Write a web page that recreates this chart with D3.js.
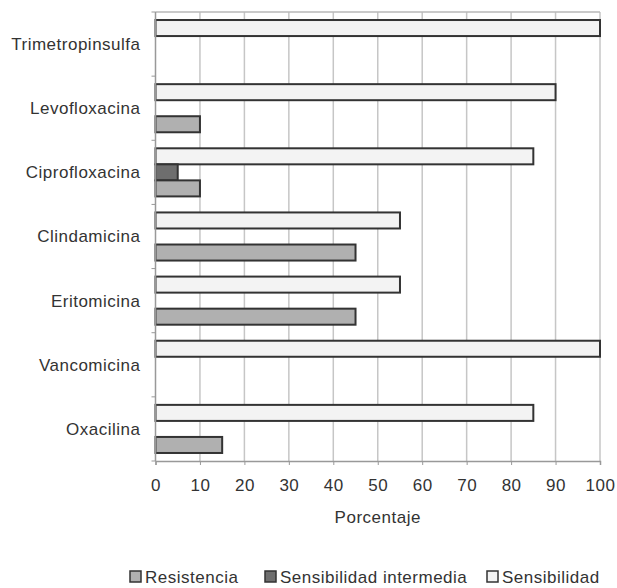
<!DOCTYPE html>
<html>
<head>
<meta charset="utf-8">
<script src="https://cdn.jsdelivr.net/npm/d3@7"></script>
<style>
  body { margin: 0; background: #fff; }
  text { font-family: "Liberation Sans", Arial, sans-serif; fill: #333; letter-spacing: 0.5px; }
</style>
</head>
<body>
<div id="chart"></div>
<script>
// data
var categories = ["Trimetropinsulfa", "Levofloxacina", "Ciprofloxacina", "Clindamicina",
                  "Eritomicina", "Vancomicina", "Oxacilina"];
var seriesNames = ["Sensibilidad", "Sensibilidad intermedia", "Resistencia"];
var sensibilidad = [100, 90, 85, 55, 55, 100, 85];
var intermedia   = [0, 0, 5, 0, 0, 0, 0];
var resistencia  = [0, 10, 10, 45, 45, 0, 15];
var xTicks = [0, 10, 20, 30, 40, 50, 60, 70, 80, 90, 100];
var legendOrder = ["Resistencia", "Sensibilidad intermedia", "Sensibilidad"];

var colors = {
    "Sensibilidad": "#f3f3f3",
    "Sensibilidad intermedia": "#6e6e6e",
    "Resistencia": "#b0b0b0"
};

var width = 617, height = 588;
var margin = {left: 155.5, right: 17, top: 12, bottom: 127};
var fontSize = "17px";

var svg = d3.select("#chart").append("svg")
    .attr("width", width)
    .attr("height", height);

var x = d3.scaleLinear()
    .domain([0, 100])
    .range([margin.left, width - margin.right]);

var y = d3.scaleBand()
    .domain(categories)
    .range([margin.top, height - margin.bottom]);

// sub band for the three series inside each category
var ySub = d3.scaleBand()
    .domain(seriesNames)
    .range([0, y.bandwidth()])
    .paddingOuter(0.5)
    .paddingInner(0);

// grid lines
svg.append("g")
    .selectAll("line")
    .data(xTicks.slice(1))
    .enter().append("line")
    .attr("x1", function(d) { return x(d); })
    .attr("x2", function(d) { return x(d); })
    .attr("y1", margin.top)
    .attr("y2", height - margin.bottom)
    .attr("stroke", "#c6c6c6")
    .attr("stroke-width", 1.5);

// top border
svg.append("line")
    .attr("x1", margin.left).attr("x2", width - margin.right)
    .attr("y1", margin.top).attr("y2", margin.top)
    .attr("stroke", "#b8b8b8").attr("stroke-width", 1.5);

var rows = categories.map(function(c, i) {
    return {
        cat: c,
        vals: [
            {name: "Sensibilidad", v: sensibilidad[i]},
            {name: "Sensibilidad intermedia", v: intermedia[i]},
            {name: "Resistencia", v: resistencia[i]}
        ]
    };
});

var groups = svg.append("g").selectAll("g")
    .data(rows)
    .enter().append("g")
    .attr("transform", function(d) { return "translate(0," + y(d.cat) + ")"; });

groups.selectAll("rect")
    .data(function(d) { return d.vals.filter(function(s) { return s.v > 0; }); })
    .enter().append("rect")
    .attr("x", x(0))
    .attr("y", function(d) { return ySub(d.name); })
    .attr("width", function(d) { return x(d.v) - x(0); })
    .attr("height", ySub.bandwidth())
    .attr("fill", function(d) { return colors[d.name]; })
    .attr("stroke", "#333")
    .attr("stroke-width", 2);

// axes
var xAxis = d3.axisBottom(x)
    .tickValues(xTicks)
    .tickSize(4)
    .tickPadding(14);
var gx = svg.append("g")
    .attr("transform", "translate(0," + (height - margin.bottom) + ")")
    .call(xAxis);
gx.select(".domain").attr("stroke", "#999").attr("stroke-width", 1.5);
gx.selectAll(".tick line").attr("stroke", "#999");
gx.selectAll(".tick text")
    .style("font-size", fontSize)
    .attr("fill", "#333");

// left axis with ticks between categories
var gy = svg.append("g").attr("transform", "translate(" + margin.left + ",0)");
gy.append("line")
    .attr("x1", 0).attr("x2", 0)
    .attr("y1", margin.top).attr("y2", height - margin.bottom)
    .attr("stroke", "#999").attr("stroke-width", 1.5);
gy.selectAll(".sep")
    .data(categories.concat(["end"]))
    .enter().append("line")
    .attr("x1", -4).attr("x2", 0)
    .attr("y1", function(d, i) { return margin.top + i * y.step(); })
    .attr("y2", function(d, i) { return margin.top + i * y.step(); })
    .attr("stroke", "#999");
gy.selectAll(".lab")
    .data(categories)
    .enter().append("text")
    .attr("x", -15)
    .attr("y", function(d) { return y(d) + y.bandwidth() / 2; })
    .attr("dy", "0.35em")
    .attr("text-anchor", "end")
    .style("font-size", fontSize)
    .text(function(d) { return d; });

// axis title
svg.append("text")
    .attr("x", (x(0) + x(100)) / 2)
    .attr("y", 517)
    .attr("dy", "0.35em")
    .attr("text-anchor", "middle")
    .style("font-size", fontSize)
    .text("Porcentaje");

// legend
var legendX = [130, 265, 487];
var legend = svg.append("g").selectAll("g")
    .data(legendOrder)
    .enter().append("g")
    .attr("transform", function(d, i) { return "translate(" + legendX[i] + ",571)"; });
legend.append("rect")
    .attr("width", 11).attr("height", 11)
    .attr("fill", function(d) { return colors[d]; })
    .attr("stroke", "#333")
    .attr("stroke-width", 1.5);
legend.append("text")
    .attr("x", 15)
    .attr("y", 6)
    .attr("dy", "0.36em")
    .style("font-size", fontSize)
    .text(function(d) { return d; });
</script>
</body>
</html>
